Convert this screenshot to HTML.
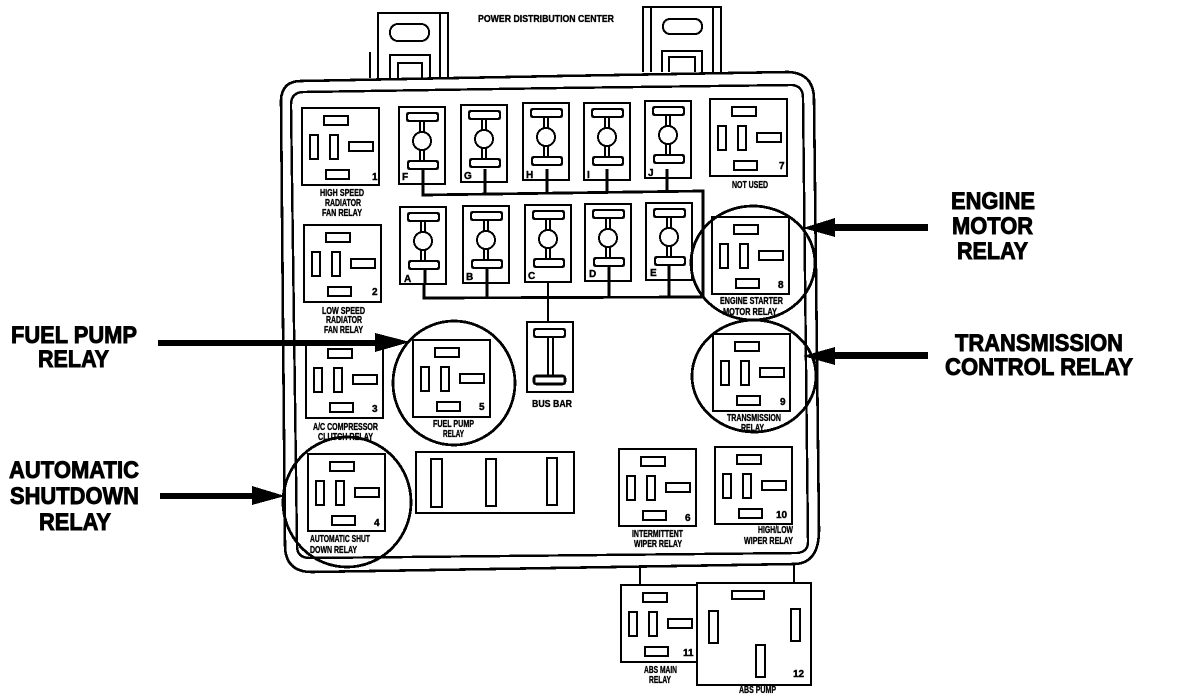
<!DOCTYPE html>
<html><head><meta charset="utf-8"><title>Power Distribution Center</title>
<style>
html,body{margin:0;padding:0;background:#fff}
svg{display:block}
text{font-family:"Liberation Sans",sans-serif;font-weight:bold;fill:#000;stroke:#000;stroke-width:.25}
.b text{font-size:24px;stroke-width:.9}
.s text{font-size:10px;stroke-width:.35}
.n text{font-size:10px;stroke-width:.4}
.d{fill:none;stroke:#000}
</style></head><body>
<svg width="1200" height="700" viewBox="0 0 1200 700" xmlns="http://www.w3.org/2000/svg" shape-rendering="crispEdges">
<defs>
<g id="relay" fill="#fff" stroke="#000" stroke-width="2">
<rect x="0" y="0" width="77" height="77"/>
<rect x="22" y="8" width="24" height="9" stroke-width="2.4"/>
<rect x="8" y="27" width="8" height="24"/>
<rect x="28" y="27" width="8" height="24"/>
<rect x="47" y="34" width="24" height="9"/>
<rect x="24" y="62" width="23" height="9"/>
</g>
<g id="fuse" fill="#fff" stroke="#000" stroke-width="2">
<rect x="0" y="0" width="46" height="77"/>
<path d="M21 14V25M25 14V25M21 43V54M25 43V54" fill="none"/>
<rect x="8" y="6" width="31" height="8" rx="2" stroke-width="2.4"/>
<circle cx="23" cy="34" r="9"/>
<rect x="9" y="54" width="30" height="8" rx="2" stroke-width="2.4"/>
</g>
</defs>

<!-- tabs -->
<g class="d" stroke-width="2">
<path d="M378 78V13H448V78M440 13V78M370 52V78" />
<rect x="390" y="24" width="39" height="17" rx="8"/>
<path d="M390 78V55H430V78M398 78V63H422V78"/>
<path d="M643 72V7H721V72M651 7V72M713 7V72"/>
<rect x="663" y="19" width="39" height="15" rx="7"/>
<path d="M662 72V51H702V72M669 72V57H695V72"/>
</g>

<!-- housing -->
<path class="d" stroke-width="2.6" d="M281 100Q282 81 301 81L560 76L788 72Q814 73 814 100L819 530Q819 563 795 564L312 572Q285 572 285 545Z"/>
<path class="d" stroke-width="2.4" d="M291 105Q291 92 304 92L560 88L792 85Q803 86 803 98L808 542Q808 552 797 553L310 558Q297 558 297 546Z"/>

<!-- buses -->
<g class="d" stroke-width="2.8">
<path d="M423 169V195L703 191V297L424 298V262"/>
<path d="M485 169V193M547 169V192M607 169V191M667 169V191"/>
<path d="M487 270V298M609 270V297M669 270V297"/>
</g>
<path class="d" stroke-width="1.6" d="M548 270V330"/>

<!-- fuses -->
<use href="#fuse" x="399" y="107"/>
<use href="#fuse" x="461" y="105"/>
<use href="#fuse" x="523" y="103"/>
<use href="#fuse" x="584" y="103"/>
<use href="#fuse" x="645" y="101"/>
<use href="#fuse" x="400" y="207"/>
<use href="#fuse" x="463" y="206"/>
<use href="#fuse" x="525" y="205"/>
<use href="#fuse" x="585" y="204"/>
<use href="#fuse" x="646" y="203"/>
<g class="d" stroke-width="2.6"><path d="M423 169V184M485 169V183M547 169V182M607 169V181M667 169V179M425 269V285M487 268V284M609 266V281M669 265V280"/></g>

<!-- relays -->
<use href="#relay" x="302" y="108"/>
<use href="#relay" x="710" y="99"/>
<use href="#relay" x="304" y="225"/>
<use href="#relay" x="306" y="341"/>
<use href="#relay" x="413" y="340"/>
<use href="#relay" x="712" y="217"/>
<use href="#relay" x="713" y="334"/>
<use href="#relay" x="308" y="454"/>
<use href="#relay" x="619" y="449"/>
<use href="#relay" x="715" y="447"/>
<use href="#relay" x="621" y="585"/>

<!-- bus bar -->
<g fill="#fff" stroke="#000" stroke-width="2">
<rect x="527" y="322" width="46" height="70"/>
<path d="M548 337V376M553 337V376" fill="none"/>
<rect x="534" y="329" width="31" height="8" rx="2" stroke-width="2.4"/>
<rect x="534" y="376" width="31" height="8" rx="2" stroke-width="2.6"/>
</g>

<!-- 3-pin block -->
<g fill="#fff" stroke="#000" stroke-width="2">
<rect x="416" y="452" width="158" height="61"/>
<rect x="431" y="459" width="11" height="48"/>
<rect x="486" y="459" width="10" height="47"/>
<rect x="547" y="458" width="10" height="47"/>
</g>

<!-- relay 12 -->
<path class="d" stroke-width="1.8" d="M640 565V586M794 565V583"/>
<g fill="#fff" stroke="#000" stroke-width="2">
<rect x="697" y="583" width="114" height="102"/>
<rect x="732" y="591" width="32" height="8"/>
<rect x="709" y="611" width="9" height="32"/>
<rect x="791" y="609" width="9" height="32"/>
<rect x="756" y="645" width="9" height="32"/>
</g>

<!-- circles -->
<g class="d" stroke-width="2.8">
<ellipse cx="454" cy="383" rx="61" ry="62"/>
<ellipse cx="753" cy="263" rx="62" ry="57"/>
<ellipse cx="754" cy="376" rx="62" ry="56"/>
<ellipse cx="347" cy="502" rx="64" ry="65"/>
</g>

<!-- arrows -->
<g fill="#000">
<path d="M158 340H375V333L410 342L375 352V346H158Z"/>
<path d="M160 493H252V486L285 496L252 505V499H160Z"/>
<path d="M928 224H835V218L803 228L835 237V231H928Z"/>
<path d="M928 352H835V347L803 356L835 365V359H928Z"/>
</g>

<!-- main labels -->
<g class="b">
<text x="11" y="343" textLength="126" lengthAdjust="spacingAndGlyphs">FUEL PUMP</text>
<text x="38" y="367" textLength="71" lengthAdjust="spacingAndGlyphs">RELAY</text>
<text x="9" y="478" textLength="130" lengthAdjust="spacingAndGlyphs">AUTOMATIC</text>
<text x="10" y="504" textLength="129" lengthAdjust="spacingAndGlyphs">SHUTDOWN</text>
<text x="39" y="530" textLength="72" lengthAdjust="spacingAndGlyphs">RELAY</text>
<text x="951" y="209" textLength="84" lengthAdjust="spacingAndGlyphs">ENGINE</text>
<text x="952" y="234" textLength="81" lengthAdjust="spacingAndGlyphs">MOTOR</text>
<text x="957" y="259" textLength="71" lengthAdjust="spacingAndGlyphs">RELAY</text>
<text x="955" y="351" textLength="168" lengthAdjust="spacingAndGlyphs">TRANSMISSION</text>
<text x="945" y="375" textLength="188" lengthAdjust="spacingAndGlyphs">CONTROL RELAY</text>
</g>

<!-- small labels -->
<g class="s">
<text x="478" y="22" textLength="136" lengthAdjust="spacingAndGlyphs">POWER DISTRIBUTION CENTER</text>
<text x="320" y="196" textLength="44" lengthAdjust="spacingAndGlyphs">HIGH SPEED</text>
<text x="325" y="206" textLength="36" lengthAdjust="spacingAndGlyphs">RADIATOR</text>
<text x="322" y="216" textLength="40" lengthAdjust="spacingAndGlyphs">FAN RELAY</text>
<text x="732" y="188" textLength="36" lengthAdjust="spacingAndGlyphs">NOT USED</text>
<text x="322" y="314" textLength="43" lengthAdjust="spacingAndGlyphs">LOW SPEED</text>
<text x="326" y="323" textLength="36" lengthAdjust="spacingAndGlyphs">RADIATOR</text>
<text x="324" y="333" textLength="39" lengthAdjust="spacingAndGlyphs">FAN RELAY</text>
<text x="313" y="430" textLength="65" lengthAdjust="spacingAndGlyphs">A/C COMPRESSOR</text>
<text x="318" y="440" textLength="55" lengthAdjust="spacingAndGlyphs">CLUTCH RELAY</text>
<text x="433" y="427" textLength="41" lengthAdjust="spacingAndGlyphs">FUEL PUMP</text>
<text x="443" y="437" textLength="21" lengthAdjust="spacingAndGlyphs">RELAY</text>
<text x="532" y="407" textLength="40" lengthAdjust="spacingAndGlyphs">BUS BAR</text>
<text x="720" y="304" textLength="63" lengthAdjust="spacingAndGlyphs">ENGINE STARTER</text>
<text x="723" y="315" textLength="54" lengthAdjust="spacingAndGlyphs">MOTOR RELAY</text>
<text x="727" y="421" textLength="54" lengthAdjust="spacingAndGlyphs">TRANSMISSION</text>
<text x="741" y="431" textLength="23" lengthAdjust="spacingAndGlyphs">RELAY</text>
<text x="310" y="542" textLength="60" lengthAdjust="spacingAndGlyphs">AUTOMATIC SHUT</text>
<text x="310" y="553" textLength="47" lengthAdjust="spacingAndGlyphs">DOWN RELAY</text>
<text x="632" y="537" textLength="51" lengthAdjust="spacingAndGlyphs">INTERMITTENT</text>
<text x="634" y="547" textLength="48" lengthAdjust="spacingAndGlyphs">WIPER RELAY</text>
<text x="758" y="533" textLength="35" lengthAdjust="spacingAndGlyphs">HIGH/LOW</text>
<text x="744" y="544" textLength="49" lengthAdjust="spacingAndGlyphs">WIPER RELAY</text>
<text x="644" y="673" textLength="33" lengthAdjust="spacingAndGlyphs">ABS MAIN</text>
<text x="649" y="683" textLength="22" lengthAdjust="spacingAndGlyphs">RELAY</text>
<text x="739" y="693" textLength="37" lengthAdjust="spacingAndGlyphs">ABS PUMP</text>
</g>

<!-- numbers and letters -->
<g class="n">
<text x="372" y="180">1</text>
<text x="779" y="169">7</text>
<text x="372" y="295">2</text>
<text x="372" y="412">3</text>
<text x="479" y="410">5</text>
<text x="778" y="288">8</text>
<text x="780" y="405">9</text>
<text x="374" y="526">4</text>
<text x="685" y="521">6</text>
<text x="776" y="518">10</text>
<text x="683" y="656">11</text>
<text x="793" y="677">12</text>
<text x="402" y="180">F</text>
<text x="464" y="179">G</text>
<text x="526" y="178">H</text>
<text x="587" y="178">I</text>
<text x="648" y="176">J</text>
<text x="404" y="282">A</text>
<text x="466" y="280">B</text>
<text x="528" y="279">C</text>
<text x="589" y="277">D</text>
<text x="650" y="276">E</text>
</g>
</svg>
</body></html>
